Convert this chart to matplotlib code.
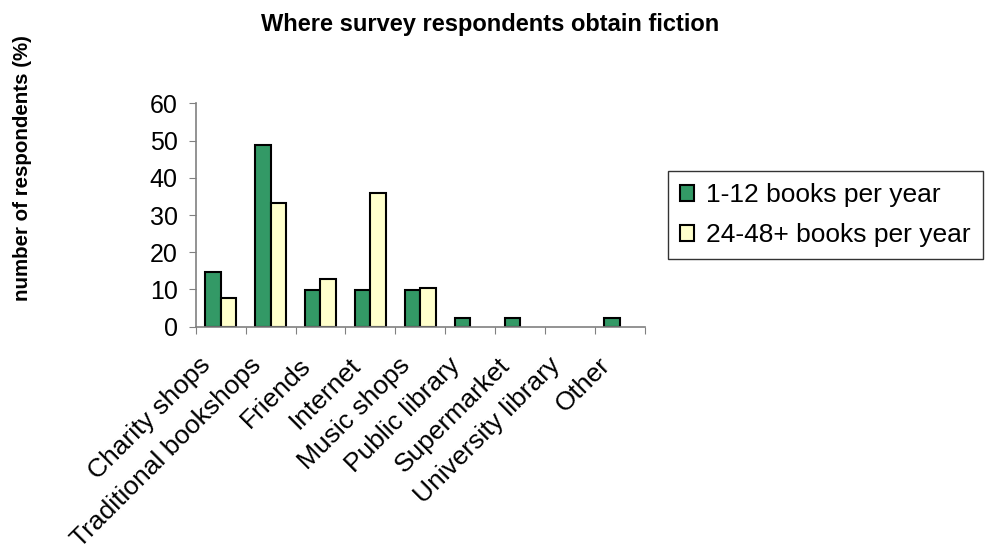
import numpy as np
import matplotlib.pyplot as plt

plt.rcParams['font.family'] = ['Liberation Sans', 'DejaVu Sans']

categories = ['Charity shops', 'Traditional bookshops', 'Friends', 'Internet',
              'Music shops', 'Public library', 'Supermarket', 'University library', 'Other']
low_readers = [14.6, 48.8, 9.8, 9.8, 9.8, 2.4, 2.4, 0, 2.4]
high_readers = [7.7, 33.3, 12.8, 35.9, 10.3, 0, 0, 0, 0]
series_names = ['1-12 books per year', '24-48+ books per year']

fig = plt.figure(figsize=(9.86, 5.54), dpi=100)
ax = fig.add_axes([0.1985, 0.4103, 0.4555, 0.4032])

x = np.arange(len(categories))
w = 0.31
b1 = ax.bar(x - w/2, low_readers, w, color='#339966', edgecolor='black', linewidth=1.5,
            label=series_names[0])
b2 = ax.bar(x + w/2, high_readers, w, color='#FFFFCC', edgecolor='black', linewidth=1.5,
            label=series_names[1])
# empty categories show no bar at all
for bars, vals in [(b1, low_readers), (b2, high_readers)]:
    for r, v in zip(bars, vals):
        if v == 0:
            r.set_visible(False)

ax.set_xlim(-0.5, len(categories) - 0.5)
ax.set_ylim(0, 60)
ax.set_yticks(range(0, 61, 10))
ax.set_xticks(np.arange(len(categories) + 1) - 0.5)
ax.set_xticklabels([])
# labels end a little left of the group centre, like excel does
ax.set_xticks(x - 0.44, minor=True)
ax.set_xticklabels(categories, minor=True, rotation=45, ha='right',
                   rotation_mode='anchor', fontsize=19)
ax.tick_params(axis='x', which='minor', length=0, pad=19)
ax.tick_params(axis='x', which='major', length=5, color='#808080', direction='out')
ax.tick_params(axis='y', length=5, color='#808080', labelsize=18, pad=8)

for s in ['top', 'right']:
    ax.spines[s].set_visible(False)
for s in ['left', 'bottom']:
    ax.spines[s].set_color('#808080')
    ax.spines[s].set_linewidth(1.2)

fig.text(23/986, 1 - 168/554, 'number of respondents (%)', rotation=90, ha='center',
         va='center', fontsize=14.8, fontweight='bold')
fig.text(0.497, 0.955, 'Where survey respondents obtain fiction', ha='center', va='center',
         fontsize=17, fontweight='bold')

leg = fig.legend(loc='upper left', bbox_to_anchor=(0.6775, 0.691), fontsize=19,
                 frameon=True, fancybox=False, edgecolor='black', handlelength=0.55,
                 handleheight=0.55, handletextpad=0.45, borderpad=0.45, labelspacing=0.6,
                 borderaxespad=0)
leg.get_frame().set_linewidth(1.0)

fig.savefig('out.png', dpi=100)
